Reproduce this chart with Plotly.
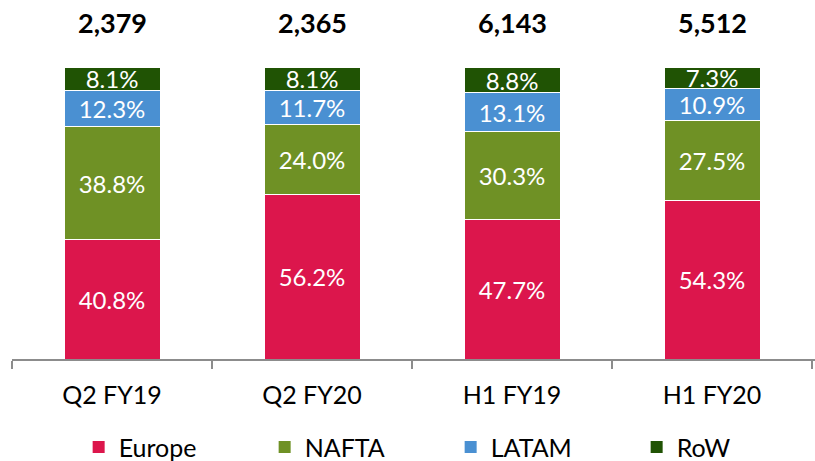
import plotly.graph_objects as go

categories = ["Q2 FY19", "Q2 FY20", "H1 FY19", "H1 FY20"]
totals = ["2,379", "2,365", "6,143", "5,512"]
europe = [40.8, 56.2, 47.7, 54.3]
nafta = [38.8, 24.0, 30.3, 27.5]
latam = [12.3, 11.7, 13.1, 10.9]
row = [8.1, 8.1, 8.8, 7.3]

series = [("Europe", europe, "#DC164C"), ("NAFTA", nafta, "#6F9125"),
          ("LATAM", latam, "#4A90D2"), ("RoW", row, "#205304")]

FONT = "Lato"
fig = go.Figure()
for name, vals, col in series:
    fig.add_trace(go.Bar(
        x=categories, y=vals, name=name, marker=dict(color=col, line=dict(color="white", width=1)),
        text=[f"{v:.1f}%" for v in vals], textposition="inside", insidetextanchor="middle",
        textangle=0, constraintext="none", textfont=dict(color="white", size=24, family=FONT),
        showlegend=False, width=0.48, hoverinfo="skip"))
for name, vals, col in series:
    fig.add_trace(go.Scatter(x=[None], y=[None], mode="markers", name=name,
                             marker=dict(symbol="square", size=16, color=col)))

for c, t in zip(categories, totals):
    fig.add_annotation(x=c, y=1.154, yref="paper", text=f"<b>{t}</b>", showarrow=False,
                       yanchor="middle", font=dict(size=27, family=FONT, color="black"))

fig.update_layout(
    barmode="stack", width=815, height=461,
    margin=dict(l=12, r=0, t=67, b=102, autoexpand=False),
    plot_bgcolor="white", paper_bgcolor="white",
    font=dict(family=FONT, color="black"),
    xaxis=dict(type="category", tickson="boundaries", ticks="outside", ticklen=8,
               tickcolor="#8C8C8C", tickwidth=1.5, showline=True, linecolor="#8C8C8C",
               linewidth=1.5, tickfont=dict(size=25, family=FONT), range=[-0.5, 3.515],
               ticklabelstandoff=13),
    yaxis=dict(range=[0, 100], visible=False),
    legend=dict(orientation="h", x=0.083, xanchor="left", y=0.03, yref="container",
                yanchor="middle", traceorder="normal",
                entrywidth=141, entrywidthmode="pixels", font=dict(size=25, family=FONT),
                itemsizing="constant", tracegroupgap=0),
)
fig.write_html("out.html", config={"displayModeBar": False},
               post_script="document.body.style.margin='0';document.body.style.overflow='hidden';")
